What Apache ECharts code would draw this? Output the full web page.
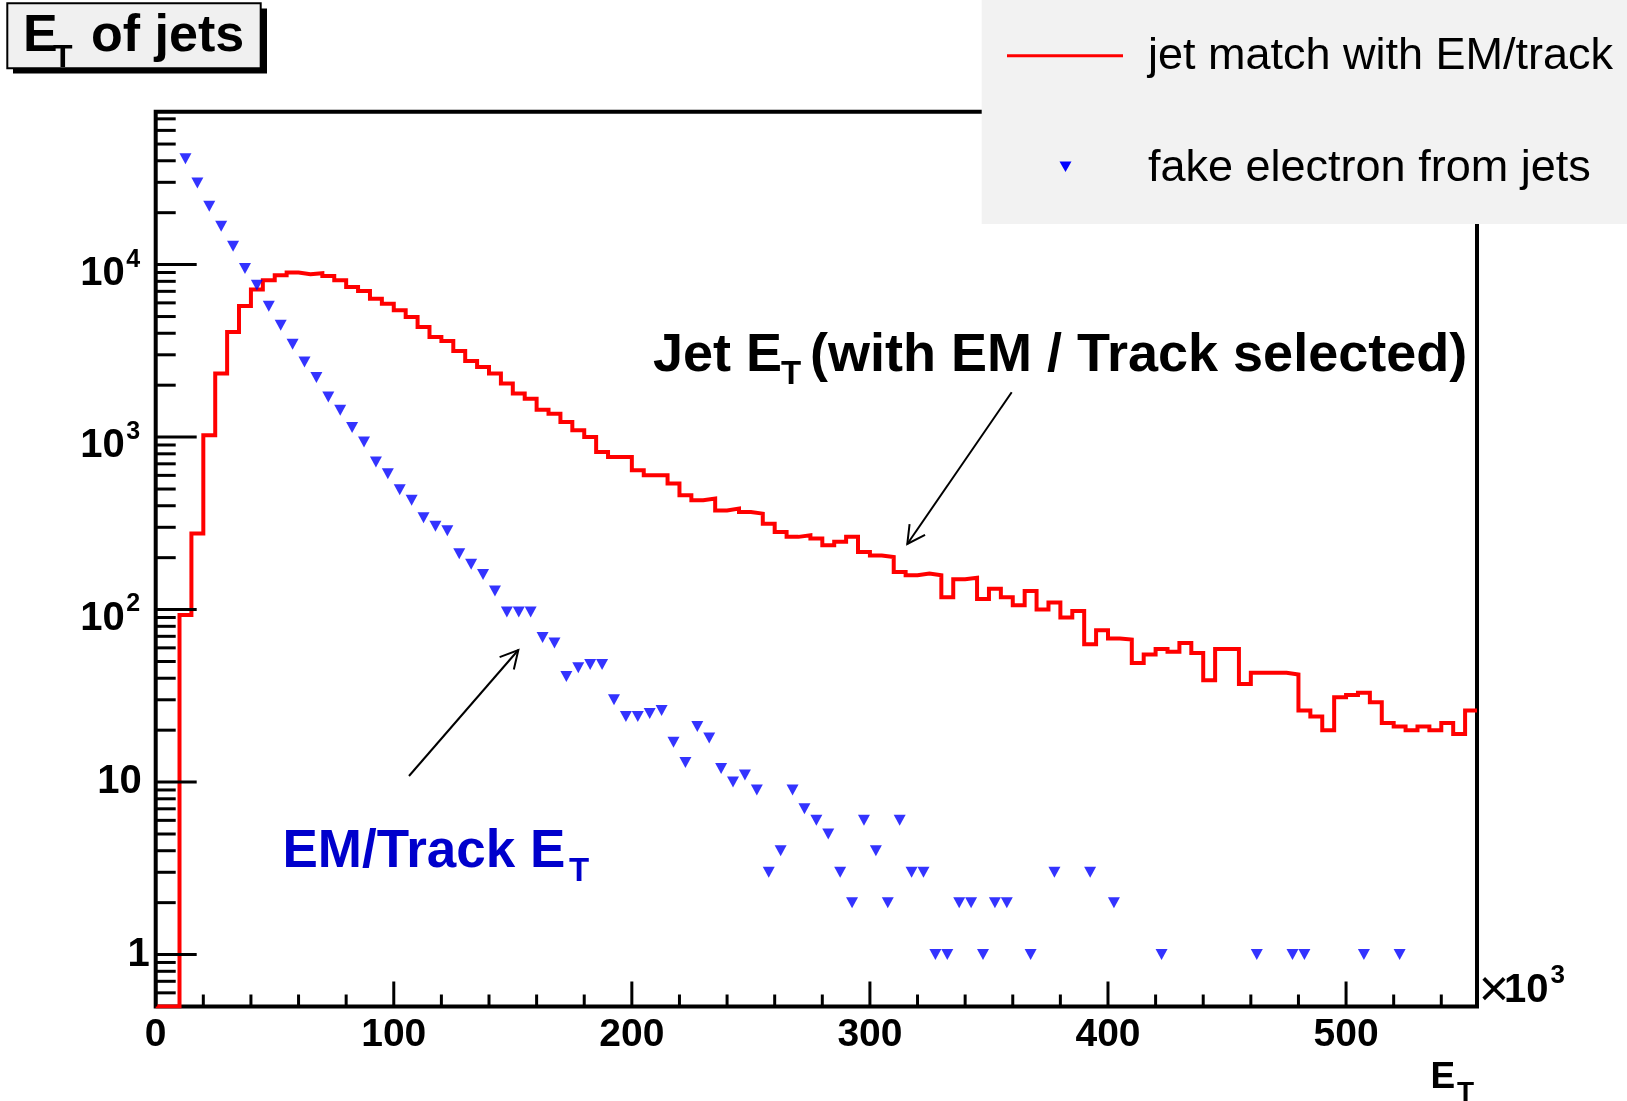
<!DOCTYPE html>
<html>
<head>
<meta charset="utf-8">
<script src="https://cdn.jsdelivr.net/npm/echarts@6/dist/echarts.min.js"></script>
<style>
  html, body { margin: 0; padding: 0; background: #ffffff; }
  #chart { width: 1627px; height: 1101px; }
</style>
</head>
<body>
<div id="chart"></div>
<script>
const FONT = "'Liberation Sans', Arial, Helvetica, sans-serif";

// Jet E_T histogram: 5 (x10^3) wide bins starting at 0
const binWidth = 5;
const xRange = [0, 555];
const yRange = [0.5, 77000];

// entries per bin, "jet match with EM/track"
const jetMatchCounts = [
  0, 0, 93, 276, 1024, 2335, 4066, 5754, 7165, 8110,
  8670, 8990, 8790, 8910, 8590, 8110, 7420, 7030, 6350, 5940,
  5430, 4970, 4350, 3805, 3610, 3157, 2762, 2549, 2335, 2043,
  1787, 1671, 1440, 1368, 1223, 1095, 1001, 820, 767, 767,
  642, 601, 601, 538, 460, 430, 440, 376, 385, 368,
  360, 315, 282, 264, 270, 258, 236, 247, 264, 216,
  206, 202, 165, 158, 162, 158, 118, 150, 153, 115,
  132, 118, 106, 128, 100, 110, 90, 98, 63, 76,
  68, 67, 49, 55, 59, 57, 64, 56, 39, 59,
  59, 37, 43, 43, 43, 42, 26, 24, 20, 31,
  32, 33, 29, 22, 21, 20, 21, 20, 22, 19,
  26
];

// "fake electron from jets": [bin centre, entries]
const fakeElectronPoints = [
  [12.5, 41150], [17.5, 29730], [22.5, 21780], [27.5, 16680], [32.5, 12770],
  [37.5, 9480], [42.5, 7590], [47.5, 5730], [52.5, 4447], [57.5, 3452],
  [62.5, 2725], [67.5, 2213], [72.5, 1709], [77.5, 1430], [82.5, 1135],
  [87.5, 937], [92.5, 717], [97.5, 614], [102.5, 496], [107.5, 430],
  [112.5, 341], [117.5, 304], [122.5, 286], [127.5, 211], [132.5, 183],
  [137.5, 160], [142.5, 128], [147.5, 97], [152.5, 97], [157.5, 97],
  [162.5, 69], [167.5, 64], [172.5, 41], [177.5, 46], [182.5, 48],
  [187.5, 48], [192.5, 30], [197.5, 24], [202.5, 24], [207.5, 25],
  [212.5, 26], [217.5, 17], [222.5, 13], [227.5, 21], [232.5, 18],
  [237.5, 12], [242.5, 10], [247.5, 11], [252.5, 9], [257.5, 3],
  [262.5, 4], [267.5, 9], [272.5, 7], [277.5, 6], [282.5, 5],
  [287.5, 3], [292.5, 2], [297.5, 6], [302.5, 4], [307.5, 2],
  [312.5, 6], [317.5, 3], [322.5, 3], [327.5, 1], [332.5, 1],
  [337.5, 2], [342.5, 2], [347.5, 1], [352.5, 2], [357.5, 2],
  [367.5, 1], [377.5, 3], [392.5, 3], [402.5, 2], [422.5, 1],
  [462.5, 1], [477.5, 1], [482.5, 1], [507.5, 1], [522.5, 1]
];

// axis ticks
const xMajorTicks = [0, 100, 200, 300, 400, 500];
const xMinorTicks = [20, 40, 60, 80, 120, 140, 160, 180, 220, 240, 260, 280,
  320, 340, 360, 380, 420, 440, 460, 480, 520, 540];
const yMajorTicks = [1, 10, 100, 1000, 10000];
const yMinorTicks = [0.6, 0.7, 0.8, 0.9,
  2, 3, 4, 5, 6, 7, 8, 9,
  20, 30, 40, 50, 60, 70, 80, 90,
  200, 300, 400, 500, 600, 700, 800, 900,
  2000, 3000, 4000, 5000, 6000, 7000, 8000, 9000,
  20000, 30000, 40000, 50000, 60000, 70000];
// y tick labels: base and power-of-ten exponent
const yTickLabels = [
  { v: 1, base: '1', exp: '' },
  { v: 10, base: '10', exp: '' },
  { v: 100, base: '10', exp: '2' },
  { v: 1000, base: '10', exp: '3' },
  { v: 10000, base: '10', exp: '4' }
];

// histogram outline points (left bin edges, step drawn to the next edge)
const jetLine = jetMatchCounts.map((c, i) => [xRange[0] + i * binWidth, Math.max(c, yRange[0])]);
jetLine.push([xRange[1], Math.max(jetMatchCounts[jetMatchCounts.length - 1], yRange[0])]);

function txt(x, y, text, font, fill, align, valign, extra) {
  return Object.assign({
    type: 'text', x: x, y: y, z: 200, silent: true,
    style: {
      text: text, font: font, fill: fill || '#000',
      align: align || 'left', verticalAlign: valign || 'middle',
      textAlign: align || 'left', textVerticalAlign: valign || 'middle'
    }
  }, extra || {});
}

function tickSeries(values, dir, len) {
  return {
    type: 'custom', silent: true, clip: false, z: 6,
    data: values.map(v => dir === 'x' ? [v, yRange[0]] : [xRange[0], v]),
    renderItem: function (params, api) {
      const p = api.coord([api.value(0), api.value(1)]);
      const shape = dir === 'x'
        ? { x1: p[0], y1: p[1], x2: p[0], y2: p[1] - len }
        : { x1: p[0], y1: p[1], x2: p[0] + len, y2: p[1] };
      return { type: 'line', shape: shape, style: { stroke: '#000', lineWidth: 3 } };
    }
  };
}

function arrow(from, tip) {
  const dx = tip[0] - from[0], dy = tip[1] - from[1];
  const L = Math.hypot(dx, dy), ux = -dx / L, uy = -dy / L;
  const head = 20, ang = 28 * Math.PI / 180;
  const rot = a => [tip[0] + head * (ux * Math.cos(a) - uy * Math.sin(a)),
                    tip[1] + head * (ux * Math.sin(a) + uy * Math.cos(a))];
  const h1 = rot(ang), h2 = rot(-ang);
  const st = { stroke: '#000', lineWidth: 2 };
  return [
    { type: 'line', z: 150, silent: true, shape: { x1: from[0], y1: from[1], x2: tip[0], y2: tip[1] }, style: st },
    { type: 'polyline', z: 150, silent: true, shape: { points: [h1, tip, h2] }, style: Object.assign({ fill: null }, st) }
  ];
}

const chart = echarts.init(document.getElementById('chart'), null, { renderer: 'canvas' });

const option = {
  animation: false,
  backgroundColor: '#ffffff',
  grid: {
    left: 155.7, top: 111.7, right: 150, bottom: 94.5,
    show: true, borderColor: '#000', borderWidth: 4, backgroundColor: 'transparent',
    containLabel: false, outerBoundsMode: 'none'
  },
  xAxis: {
    type: 'value', min: xRange[0], max: xRange[1], interval: 100,
    axisLine: { show: false }, axisTick: { show: false }, splitLine: { show: false },
    axisLabel: {
      show: true, showMaxLabel: false, margin: 29, verticalAlign: 'middle',
      color: '#000', fontFamily: FONT, fontWeight: 'bold', fontSize: 39
    }
  },
  yAxis: {
    type: 'log', logBase: 10, min: yRange[0], max: yRange[1],
    axisLine: { show: false }, axisTick: { show: false }, splitLine: { show: false },
    axisLabel: { show: false }
  },
  series: [
    {
      name: 'jet match with EM/track', type: 'line', step: 'end',
      data: jetLine, showSymbol: false, symbol: 'none', z: 3,
      lineStyle: { color: '#ff0000', width: 4, join: 'miter', cap: 'butt' },
      emphasis: { disabled: true }
    },
    {
      name: 'fake electron from jets', type: 'scatter',
      data: fakeElectronPoints, symbol: 'triangle', symbolRotate: 180, symbolSize: [12, 11], z: 4,
      itemStyle: { color: '#0000ff' }, emphasis: { disabled: true }
    },
    tickSeries(xMajorTicks, 'x', 25),
    tickSeries(xMinorTicks, 'x', 12),
    tickSeries(yMajorTicks, 'y', 41),
    tickSeries(yMinorTicks, 'y', 20),
    {
      type: 'custom', silent: true, clip: false, z: 6,
      data: yTickLabels.map(t => [xRange[0], t.v]),
      renderItem: function (params, api) {
        const t = yTickLabels[params.dataIndex];
        const p = api.coord([api.value(0), api.value(1)]);
        const bold40 = 'bold 40px ' + FONT;
        if (!t.exp) {
          const xr = p[0] - (t.base === '1' ? 6 : 14);
          return txt(xr, p[1], t.base, bold40, '#000', 'right', 'middle');
        }
        return {
          type: 'group',
          children: [
            txt(p[0] - 31, p[1] + 9, t.base, bold40, '#000', 'right', 'middle'),
            txt(p[0] - 15.5, p[1] - 5, t.exp, 'bold 25px ' + FONT, '#000', 'right', 'middle')
          ]
        };
      }
    }
  ],
  graphic: {
    elements: [
      // title box with drop shadow
      { type: 'rect', z: 190, silent: true, shape: { x: 13, y: 8.5, width: 254, height: 65 }, style: { fill: '#000' } },
      { type: 'rect', z: 191, silent: true, shape: { x: 7.3, y: 3.3, width: 253.4, height: 65 }, style: { fill: '#f0f0f0', stroke: '#000', lineWidth: 2 } },
      txt(23, 37, 'E', 'bold 52px ' + FONT),
      txt(53, 58, 'T', 'bold 32px ' + FONT),
      txt(91, 37, 'of jets', 'bold 52px ' + FONT),

      // legend
      { type: 'rect', z: 195, silent: true, shape: { x: 981.7, y: 0, width: 646, height: 224 }, style: { fill: '#f2f2f2' } },
      { type: 'line', z: 200, silent: true, shape: { x1: 1007, y1: 55.7, x2: 1123, y2: 55.7 }, style: { stroke: '#ff0000', lineWidth: 3 } },
      txt(1148, 57, 'jet match with EM/track', '45px ' + FONT),
      { type: 'polygon', z: 200, silent: true, shape: { points: [[1059.5, 161.5], [1071.5, 161.5], [1065.5, 172]] }, style: { fill: '#0000ff' } },
      txt(1148, 168.5, 'fake electron from jets', '45px ' + FONT),

      // annotation: jet spectrum
      txt(653, 356, 'Jet E', 'bold 54px ' + FONT),
      txt(781, 374.5, 'T', 'bold 33px ' + FONT),
      txt(810, 356, '(with EM / Track selected)', 'bold 54px ' + FONT),
      ...arrow([1011.7, 392.2], [907.3, 544]),

      // annotation: EM/track spectrum
      txt(282.5, 852.5, 'EM/Track E', 'bold 53px ' + FONT, '#0000cc'),
      txt(569, 871.5, 'T', 'bold 33px ' + FONT, '#0000cc'),
      ...arrow([409, 776], [518.3, 650]),

      // x axis exponent and title
      txt(1494, 992, '\u00d7', '52px ' + FONT, '#000', 'center'),
      txt(1504, 991, '10', 'bold 40px ' + FONT),
      txt(1550.5, 976, '3', 'bold 26px ' + FONT),
      txt(1430.4, 1077.5, 'E', 'bold 37px ' + FONT),
      txt(1457, 1093, 'T', 'bold 28px ' + FONT)
    ]
  }
};

chart.setOption(option);
</script>
</body>
</html>
